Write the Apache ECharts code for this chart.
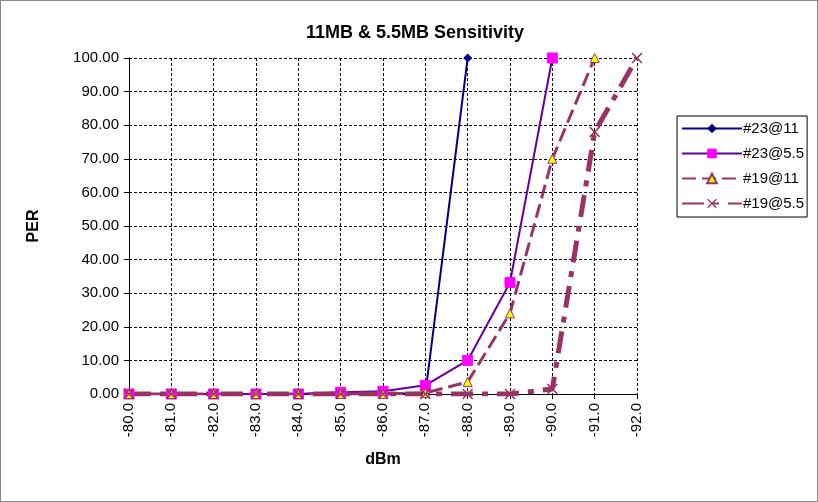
<!DOCTYPE html>
<html>
<head>
<meta charset="utf-8">
<script src="https://cdn.jsdelivr.net/npm/echarts@6/dist/echarts.min.js"></script>
<style>
html,body{margin:0;padding:0;background:#fff;}
#c{width:818px;height:502px;box-sizing:border-box;border:1px solid #888;}
</style>
</head>
<body>
<div id="c"></div>
<script>
const categories = ['-80.0','-81.0','-82.0','-83.0','-84.0','-85.0','-86.0','-87.0','-88.0','-89.0','-90.0','-91.0','-92.0'];
const s23at11  = [0, 0, 0, 0, 0, 0.2, 0.3, 0, 100, null, null, null, null];
const s23at55  = [0, 0, 0, 0, 0, 0.5, 0.8, 2.6, 10, 33.2, 100, null, null];
const s19at11  = [0, 0, 0, 0, 0, 0, 0, 0.3, 3.6, 24, 70, 100, null];
const s19at55  = [0, 0, 0, 0, 0, 0, 0, 0, 0, 0, 1.5, 78, 100];
const yTicks = [0,10,20,30,40,50,60,70,80,90,100];

const font = 'Liberation Sans, Arial, sans-serif';
const xSym = 'path://M0,1 L1,0 L5,4 L9,0 L10,1 L6,5 L10,9 L9,10 L5,6 L1,10 L0,9 L4,5 Z';

const chart = echarts.init(document.getElementById('c'));
chart.setOption({
  animation: false,
  backgroundColor: '#fff',
  title: {
    text: '11MB & 5.5MB Sensitivity',
    left: 300, top: 18,
    textStyle: {fontFamily: font, fontSize: 18, fontWeight: 'bold', color: '#000'}
  },
  legend: {
    orient: 'vertical',
    left: 676, top: 115,
    padding: [5, 3, 6, 4],
    itemGap: 10,
    itemWidth: 60, itemHeight: 12,
    borderColor: '#000', borderWidth: 1,
    textStyle: {fontFamily: font, fontSize: 15, color: '#000', padding: [0, 0, 0, -4]},
    data: ['#23@11', '#23@5.5', '#19@11', '#19@5.5']
  },
  grid: {left: 128, right: 180, top: 57, bottom: 107},
  xAxis: {
    type: 'category',
    data: categories,
    boundaryGap: false,
    name: 'dBm',
    nameLocation: 'middle',
    nameGap: 58,
    nameTextStyle: {fontFamily: font, fontSize: 16, fontWeight: 'bold', color: '#000'},
    axisLine: {lineStyle: {color: '#000', width: 1}},
    axisTick: {show: true, length: 5, lineStyle: {color: '#000'}},
    axisLabel: {rotate: 90, fontFamily: font, fontSize: 15, color: '#000', margin: 9},
    splitLine: {show: true, lineStyle: {color: '#000', type: [3, 2], width: 1}}
  },
  yAxis: {
    type: 'value',
    min: 0, max: 100, interval: 10,
    name: 'PER',
    nameLocation: 'middle',
    nameGap: 87,
    nameRotate: 90,
    nameTextStyle: {fontFamily: font, fontSize: 16, fontWeight: 'bold', color: '#000'},
    axisLine: {show: true, lineStyle: {color: '#000', width: 1}},
    axisTick: {show: true, length: 5, lineStyle: {color: '#000'}},
    axisLabel: {fontFamily: font, fontSize: 15, color: '#000', margin: 10,
      formatter: v => yTicks.includes(v) ? v.toFixed(2) : ''},
    splitLine: {show: true, lineStyle: {color: '#000', type: [3, 2], width: 1}}
  },
  series: [
    {
      name: '#23@11', type: 'line', data: s23at11,
      symbol: 'diamond', symbolSize: 9, showAllSymbol: true,
      lineStyle: {color: '#000080', width: 2},
      itemStyle: {color: '#000080'}
    },
    {
      name: '#23@5.5', type: 'line', data: s23at55,
      symbol: 'rect', symbolSize: 10, showAllSymbol: true,
      lineStyle: {color: '#660099', width: 2},
      itemStyle: {color: '#ff00ff', borderColor: '#ff00ff'}
    },
    {
      name: '#19@11', type: 'line', data: s19at11,
      symbol: 'triangle', symbolSize: 9, showAllSymbol: true,
      lineStyle: {color: '#993366', width: 3, type: [14, 6]},
      itemStyle: {color: '#ffff00', borderColor: '#993366', borderWidth: 1}
    },
    {
      name: '#19@5.5', type: 'line', data: s19at55,
      symbol: xSym, symbolSize: 11, showAllSymbol: true,
      lineStyle: {color: '#993366', width: 5, type: [22, 9, 6, 9]},
      itemStyle: {color: '#993366'}
    }
  ]
});
</script>
</body>
</html>
